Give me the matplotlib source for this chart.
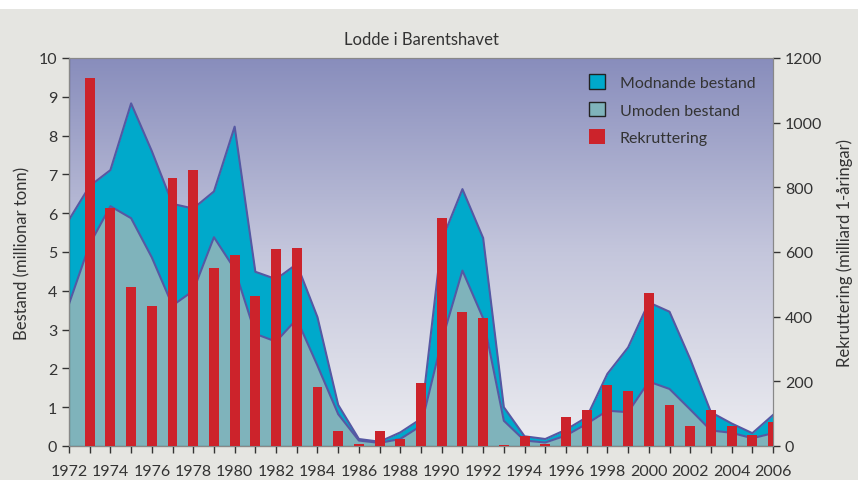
import numpy as np
import matplotlib.pyplot as plt
from matplotlib.patches import Patch, Rectangle
from matplotlib.colors import LinearSegmentedColormap

plt.rcParams["font.family"] = ["Lato", "DejaVu Sans"]

# data
years = list(range(1972, 2007))
total = [5.83, 6.7, 7.11, 8.83, 7.6, 6.24, 6.12, 6.56, 8.23, 4.49, 4.3, 4.69, 3.32, 1.06,
         0.18, 0.11, 0.35, 0.70, 5.3, 6.62, 5.36, 1.0, 0.25, 0.18, 0.42, 0.74, 1.86, 2.54,
         3.70, 3.46, 2.24, 0.87, 0.58, 0.33, 0.80]
umoden = [3.66, 5.2, 6.18, 5.87, 4.86, 3.62, 4.0, 5.38, 4.56, 2.89, 2.69, 3.27, 2.07, 0.82,
          0.14, 0.08, 0.18, 0.52, 2.7, 4.52, 3.29, 0.65, 0.14, 0.09, 0.27, 0.57, 0.91, 0.87,
          1.66, 1.47, 0.94, 0.40, 0.34, 0.20, 0.33]
rec_years = list(range(1973, 2007))
rekruttering = [1138, 736, 492, 433, 829, 854, 551, 591, 464, 609, 612, 182, 46, 7, 46, 22,
                195, 705, 414, 396, 3, 31, 6, 90, 111, 189, 170, 473, 127, 62, 111, 62, 34, 73]

c_mod = "#00a9cb"
c_umo = "#7fb3bb"
c_rec = "#cc232b"
c_line = "#5658a3"
c_txt = "#333333"

fig = plt.figure(figsize=(8.58, 4.81), dpi=100)
fig.patch.set_facecolor("#e5e5e1")
# white strip at the top
fig.patches.append(Rectangle((0, 0.979), 1, 0.021, transform=fig.transFigure,
                             facecolor="white", edgecolor="none", zorder=-1))

ax = fig.add_axes([0.0804, 0.0707, 0.8206, 0.8067])
ax2 = ax.twinx()

# background gradient
grad = np.linspace(0, 1, 256).reshape(-1, 1)
cmap = LinearSegmentedColormap.from_list("bg", ["#ececf0", "#c4c6dc", "#888dbc"])
ax.imshow(grad, extent=[0, 1, 0, 1], transform=ax.transAxes, cmap=cmap,
          origin="lower", aspect="auto", zorder=0)

ax.fill_between(years, umoden, total, color=c_mod, zorder=1, linewidth=0)
ax.fill_between(years, 0, umoden, color=c_umo, zorder=1, linewidth=0)
ax.plot(years, total, color=c_line, lw=1.5, zorder=2)
ax.plot(years, umoden, color=c_line, lw=1.5, zorder=2)

ax2.bar(rec_years, rekruttering, width=0.48, color=c_rec, zorder=3)

ax.set_xlim(1972, 2006)
ax.set_ylim(0, 10)
ax2.set_ylim(0, 1200)

ax.set_xticks(range(1972, 2007))
ax.set_xticklabels([str(y) if y % 2 == 0 else "" for y in years])
ax.set_yticks(range(0, 11))
ax2.set_yticks(range(0, 1201, 200))

for a in (ax, ax2):
    a.tick_params(colors=c_txt, labelsize=11.5, length=5, width=1)
    for s in a.spines.values():
        s.set_color("#888888")
ax.spines["left"].set_color("black")
ax.spines["bottom"].set_color("black")
ax.tick_params(axis="x", pad=8)

ax.set_ylabel("Bestand (millionar tonn)", fontsize=12, color=c_txt, labelpad=6)
ax2.set_ylabel("Rekruttering (milliard 1-åringar)", fontsize=12, color=c_txt, labelpad=10)
ax.set_title("Lodde i Barentshavet", fontsize=12, color=c_txt, pad=10)

handles = [Patch(facecolor=c_mod, edgecolor="#222222", label="Modnande bestand"),
           Patch(facecolor=c_umo, edgecolor="#222222", label="Umoden bestand"),
           Patch(facecolor=c_rec, edgecolor="none", label="Rekruttering")]
leg = ax2.legend(handles=handles, loc="upper right", bbox_to_anchor=(0.995, 0.995),
                 frameon=False, fontsize=11.5, handlelength=1.0, handleheight=1.0,
                 labelspacing=0.75, handletextpad=0.9)
for t in leg.get_texts():
    t.set_color(c_txt)

fig.savefig("out.png", dpi=100, facecolor=fig.get_facecolor())
